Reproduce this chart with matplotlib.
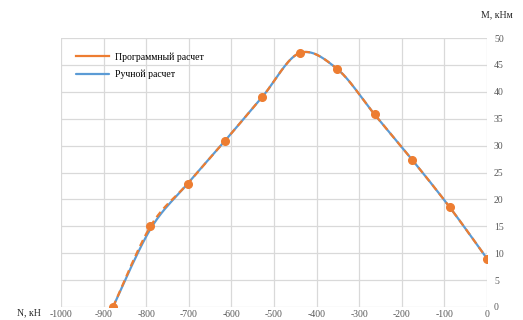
import numpy as np
import matplotlib
matplotlib.use("Agg")
import matplotlib.pyplot as plt

# Data
n_prog = [-878, -790, -703, -615, -527, -440, -351, -264, -176, -88, 0]
m_prog = [0.0, 15.0, 22.9, 30.9, 39.1, 47.2, 44.2, 35.8, 27.4, 18.6, 9.0]
n_hand = [-878, -790, -703, -615, -527, -440, -351, -264, -176, -88, 0]
m_hand = [0.0, 14.5, 22.9, 30.9, 39.1, 47.2, 44.2, 35.8, 27.4, 18.6, 9.0]
x_ticks = list(range(-1000, 1, 100))
y_ticks = list(range(0, 51, 5))
labels = ["Программный расчет", "Ручной расчет"]

def smooth(x, y, n=20):
    # Catmull-Rom smoothing for rendering (Excel-style smoothed line)
    x = np.asarray(x, float); y = np.asarray(y, float)
    P = np.column_stack([x, y])
    P = np.vstack([P[0], P, P[-1]])
    out = []
    for i in range(1, len(P) - 2):
        p0, p1, p2, p3 = P[i-1], P[i], P[i+1], P[i+2]
        t = np.linspace(0, 1, n, endpoint=False)[:, None]
        c1 = p1 + (p2 - p0) / 6
        c2 = p2 - (p3 - p1) / 6
        seg = ((1-t)**3)*p1 + 3*((1-t)**2)*t*c1 + 3*(1-t)*t**2*c2 + t**3*p2
        out.append(seg)
    out.append(P[-2][None, :])
    out = np.vstack(out)
    return out[:, 0], out[:, 1]

plt.rcParams['font.family'] = ['Liberation Serif', 'DejaVu Serif']
plt.rcParams['axes.unicode_minus'] = False

fig = plt.figure(figsize=(5.23, 3.2), dpi=100)
ax = fig.add_axes([61/523, 1-307/320, (487-61)/523, (307-38)/320])

orange = '#ED7D31'
blue = '#5B9BD5'

hx, hy = smooth(n_hand, m_hand)
ax.plot(hx, hy, color=blue, lw=1.6, solid_capstyle='round', label=labels[1], zorder=3)
px, py = smooth(n_prog, m_prog)
ax.plot(px, py, color=orange, lw=1.6, dashes=(3, 2), zorder=4)
ax.plot(n_prog, m_prog, 'o', color=orange, ms=5.5, zorder=5)
ax.plot([], [], color=orange, lw=1.6, label=labels[0])

ax.set_xlim(-1000, 0)
ax.set_ylim(0, 50)
ax.set_xticks(x_ticks)
ax.set_yticks(y_ticks)
ax.yaxis.tick_right()
ax.grid(True, color='#d9d9d9', lw=0.9)
ax.set_axisbelow(True)
for s in ax.spines.values():
    s.set_visible(False)
ax.tick_params(length=0, labelsize=7, colors='#595959', pad=2)
ax.tick_params(axis='y', pad=5)

handles, labs = ax.get_legend_handles_labels()
order = [labs.index(labels[0]), labs.index(labels[1])]
leg = ax.legend([handles[i] for i in order], [labs[i] for i in order],
                loc='upper left', bbox_to_anchor=(0.015, 0.98), frameon=False,
                fontsize=7, handlelength=3.4, labelspacing=0.85, handletextpad=0.55)

fig.text(41/523, 1-313/320, "N, кН", fontsize=7, color='#262626', ha='right', va='center')
fig.text(497/523, 1-15/320, "M, кНм", fontsize=7, color='#262626', ha='center', va='center')

fig.savefig("out.png", dpi=100)
